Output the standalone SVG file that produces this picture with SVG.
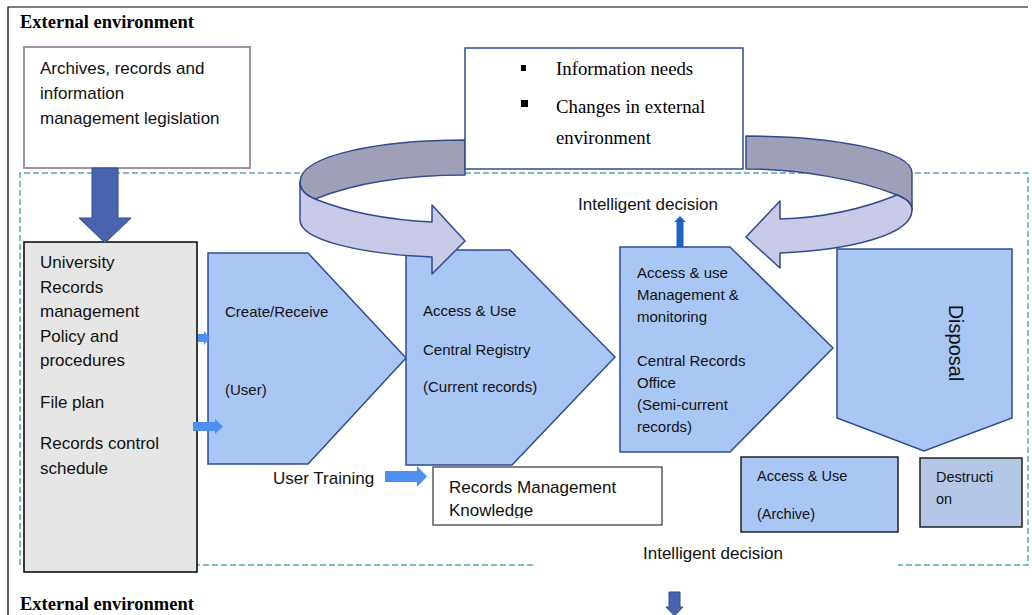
<svg xmlns="http://www.w3.org/2000/svg" width="1032" height="615" viewBox="0 0 1032 615">
<defs>
<style>
.t{font-family:"Liberation Sans",Arial,sans-serif;fill:#111}
.s17{font-size:17px}
.s15{font-size:15px}
.s14{font-size:14.5px}
.serif{font-family:"Liberation Serif","Times New Roman",serif;fill:#000}
.pent{fill:#a9c7f5;stroke:#2f4b8f;stroke-width:1.5;stroke-linejoin:miter}
.rib{stroke:#2f4b8f;stroke-width:1.5;stroke-linejoin:round}
.dk{fill:#a09fb8}
.lt{fill:#c9cae7}
.sm{fill:#4b8ff0}
.big{fill:#4864ae;stroke:#2f4b8f;stroke-width:1}
.dash{fill:none;stroke:#5aa5b0;stroke-width:1.5;stroke-dasharray:6 3}
</style>
<clipPath id="kc"><rect x="433" y="467" width="229" height="51"/></clipPath>
</defs>
<rect x="0" y="0" width="1032" height="615" fill="#fff"/>

<g id="frame">
<path d="M8,615 V7 H1028" fill="none" stroke="#000" stroke-width="1.2"/>
<path class="dash" d="M533,565 H20 V173 H1028 V565 H898"/>
<text class="serif" x="20" y="28" font-size="18.5" font-weight="bold">External environment</text>
<text class="serif" x="20" y="610" font-size="18.5" font-weight="bold">External environment</text>
</g>

<g id="legislation">
<rect x="24" y="47" width="226" height="121" fill="#fff" stroke="#a58fa5" stroke-width="2"/>
<text class="t s17" x="40" y="74">Archives, records and</text>
<text class="t s17" x="40" y="99">information</text>
<text class="t s17" x="40" y="124">management legislation</text>
</g>

<g id="policy">
<rect x="24" y="242" width="173" height="330" fill="#e6e6e6" stroke="#000" stroke-width="1.5"/>
<text class="t s17" x="40" y="268">University</text>
<text class="t s17" x="40" y="293">Records</text>
<text class="t s17" x="40" y="317">management</text>
<text class="t s17" x="40" y="342">Policy and</text>
<text class="t s17" x="40" y="366">procedures</text>
<text class="t s17" x="40" y="408">File plan</text>
<text class="t s17" x="40" y="449">Records control</text>
<text class="t s17" x="40" y="474">schedule</text>
</g>

<g id="create">
<polygon class="pent" points="208,253 308,253 406,358 308,464 208,464"/>
<text class="t s15" x="225" y="317">Create/Receive</text>
<text class="t s15" x="225" y="395">(User)</text>
</g>

<g id="registry">
<polygon class="pent" points="406,250 510,250 615,357 512,465 406,465"/>
<text class="t s15" x="423" y="316">Access &amp; Use</text>
<text class="t s15" x="423" y="355">Central Registry</text>
<text class="t s15" x="423" y="392">(Current records)</text>
</g>

<g id="records-office">
<polygon class="pent" points="620,247 730,247 833,348 730,452 620,452"/>
<text class="t s15" x="637" y="278">Access &amp; use</text>
<text class="t s15" x="637" y="300">Management &amp;</text>
<text class="t s15" x="637" y="322">monitoring</text>
<text class="t s15" x="637" y="366">Central Records</text>
<text class="t s15" x="637" y="388">Office</text>
<text class="t s15" x="637" y="410">(Semi-current</text>
<text class="t s15" x="637" y="432">records)</text>
</g>

<g id="disposal">
<polygon class="pent" points="837,249 1012,249 1012,418 924,451 837,418"/>
<text class="t" x="0" y="0" font-size="20" fill="#222" text-anchor="middle" transform="translate(949,343) rotate(90)">Disposal</text>
</g>

<g id="archive">
<rect x="741" y="457" width="157" height="75" fill="#a9c7f5" stroke="#222" stroke-width="1.5"/>
<text class="t s14" x="757" y="481">Access &amp; Use</text>
<text class="t s14" x="757" y="519">(Archive)</text>
</g>

<g id="destruction">
<rect x="920" y="458" width="102" height="69" fill="#b4c7e7" stroke="#222" stroke-width="1.5"/>
<text class="t s14" x="936" y="482">Destructi</text>
<text class="t s14" x="936" y="504">on</text>
</g>

<g id="knowledge">
<rect x="433" y="467" width="229" height="58" fill="#fff" stroke="#333" stroke-width="1.2"/>
<g clip-path="url(#kc)">
<text class="t s17" x="449" y="493">Records Management</text>
<text class="t s17" x="449" y="516">Knowledge</text>
</g>
</g>

<g id="labels">
<text class="t s17" x="578" y="210">Intelligent decision</text>
<text class="t s17" x="643" y="559">Intelligent decision</text>
<text class="t s17" x="273" y="484">User Training</text>
</g>

<g id="connectors">
<path class="big" d="M92,168 H118 V218 H131 L105,243 L79,218 H92 Z"/>
<path class="sm" d="M198,334 H204 V331 L210,338 L204,345 V342 H198 Z"/>
<path class="sm" d="M193,422 H215 V419 L223,426.5 L215,434 V431 H193 Z"/>
<path class="sm" d="M385,471 H417 V466 L427,476.5 L417,487 V482 H385 Z"/>
<path d="M676.5,247 V222 H674 L680,216 L686,222 H683.5 V247 Z" fill="#1f62c6"/>
<path class="big" d="M669,592 H680 V607 H683 L674.5,616 L666,607 H669 Z"/>
<path class="rib dk" d="M465,140 C380,140 300,155 300,182 C300,190 305,195 315,199 C350,185 400,175 465,175 Z"/>
<path class="rib lt" d="M300,182 C300,190 305,195 315,199 C350,213 390,220 432,222 L432,205 L465,241 L432,274 L432,257 C360,254 300,240 300,220 Z"/>
<path class="rib dk" d="M746,136 C830,136 912,150 912,173 L912,210 C912,203 905,198 897,195 C860,180 800,169 746,169 Z"/>
<path class="rib lt" d="M897,195 C860,210 820,218 780,219 L780,201 L746,237 L780,268 L780,253 C850,250 912,235 912,210 C912,203 905,198 897,195 Z"/>
</g>

<g id="info">
<rect x="465" y="48" width="278" height="121" fill="#fff" stroke="#2f4b8f" stroke-width="1.5"/>
<rect x="521" y="65" width="5" height="6" fill="#000"/>
<rect x="521" y="100" width="7" height="7" fill="#000"/>
<text class="serif" x="556" y="75" font-size="18.8">Information needs</text>
<text class="serif" x="556" y="113" font-size="18.8">Changes in external</text>
<text class="serif" x="556" y="144" font-size="18.8">environment</text>
</g>
</svg>
